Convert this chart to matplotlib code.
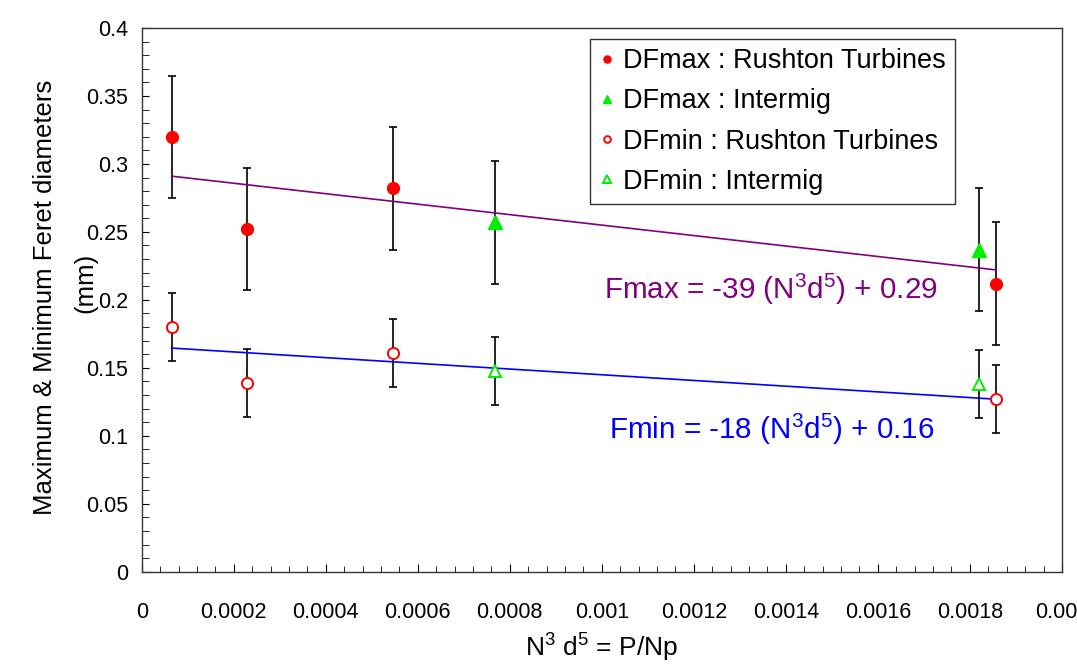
import numpy as np
import matplotlib
matplotlib.use('Agg')
import matplotlib.pyplot as plt
from matplotlib.ticker import MultipleLocator, FuncFormatter

plt.rcParams['font.family'] = ['Liberation Sans', 'DejaVu Sans']
plt.rcParams['mathtext.fontset'] = 'custom'
plt.rcParams['mathtext.rm'] = 'Liberation Sans'
plt.rcParams['mathtext.it'] = 'Liberation Sans'

# data
rt_x = [0.000065, 0.000229, 0.000547, 0.001857]
rt_max = [0.320, 0.252, 0.282, 0.212]
rt_min = [0.180, 0.139, 0.161, 0.127]
im_x = [0.000768, 0.00182]
im_max = [0.257, 0.237]
im_min = [0.148, 0.138]
err_max = 0.045
err_min = 0.025

# fitted lines as drawn (slope, intercept)
fmax_fit = (-38.5, 0.2935)
fmin_fit = (-21.0, 0.1659)
fit_x = [0.000065, 0.001857]

fig = plt.figure(figsize=(10.77, 6.70), dpi=100)
ax = fig.add_axes([0.1316, 0.1467, 0.8544, 0.8115])

ekw = dict(ecolor='black', elinewidth=1.2, capsize=3, capthick=1.2, linestyle='none', zorder=2)
ax.errorbar(rt_x, rt_max, yerr=err_max, **ekw)
ax.errorbar(im_x, im_max, yerr=err_max, **ekw)
ax.errorbar(rt_x, rt_min, yerr=err_min, **ekw)
ax.errorbar(im_x, im_min, yerr=err_min, **ekw)

fx = np.array(fit_x)
ax.plot(fx, fmax_fit[0] * fx + fmax_fit[1], color='#800080', lw=1.2, zorder=3)
ax.plot(fx, fmin_fit[0] * fx + fmin_fit[1], color='#0000ff', lw=1.2, zorder=3)

ax.plot(rt_x, rt_max, 'o', color='#ff0000', ms=8.5, ls='none', zorder=4,
        label='DFmax : Rushton Turbines')
ax.plot(im_x, im_max, '^', color='#00ee00', ms=9.5, ls='none', zorder=4,
        label='DFmax : Intermig')
ax.plot(rt_x, rt_min, 'o', mfc='white', mec='#ff0000', mew=1.4, ms=8, ls='none', zorder=4,
        label='DFmin : Rushton Turbines')
ax.plot(im_x, im_min, '^', mfc='white', mec='#00ee00', mew=1.4, ms=9, ls='none', zorder=4,
        label='DFmin : Intermig')

ax.text(0.001005, 0.208, r'Fmax = -39 (N$^3$d$^5$) + 0.29', color='#800080',
        fontsize=21.3, va='center', ha='left')
ax.text(0.001016, 0.105, r'Fmin = -18 (N$^3$d$^5$) + 0.16', color='#0000ff',
        fontsize=21.3, va='center', ha='left')

ax.set_xlim(0, 0.002)
ax.set_ylim(0, 0.4)
ax.xaxis.set_major_locator(MultipleLocator(0.0002))
ax.xaxis.set_minor_locator(MultipleLocator(0.00004))
ax.yaxis.set_major_locator(MultipleLocator(0.05))
ax.yaxis.set_minor_locator(MultipleLocator(0.01))
ax.xaxis.set_major_formatter(FuncFormatter(lambda v, p: '%g' % round(v, 6)))
ax.yaxis.set_major_formatter(FuncFormatter(lambda v, p: '%g' % round(v, 3)))

ax.tick_params(which='both', direction='in', top=False, right=False, labelsize=15.5)
ax.tick_params(axis='x', which='major', length=6, pad=22)
ax.tick_params(axis='x', which='minor', length=4)
ax.tick_params(axis='y', which='major', length=5, pad=10)
ax.tick_params(axis='y', which='minor', length=5)
for s in ax.spines.values():
    s.set_color('#333333')
    s.set_linewidth(1.0)

ax.set_xlabel(r'N$^3$ d$^5$ = P/Np', fontsize=19, labelpad=6)
# y label: two lines placed separately, the second sits close to the tick labels
fig.text(0.0418, 0.556, 'Maximum & Minimum Feret diameters', fontsize=18.5,
         rotation=90, ha='center', va='center')
fig.text(0.0795, 0.5776, '(mm)', fontsize=18.5, rotation=90, ha='center', va='center')

leg = ax.legend(loc='upper right', bbox_to_anchor=(0.884, 0.98), fontsize=19.5,
                frameon=True, fancybox=False, edgecolor='#333333', framealpha=1,
                handlelength=0.5, handletextpad=0.35, borderpad=0.35, labelspacing=0.52,
                borderaxespad=0, markerscale=0.6)
leg.get_frame().set_linewidth(1.0)

fig.savefig('out.png', dpi=100)
